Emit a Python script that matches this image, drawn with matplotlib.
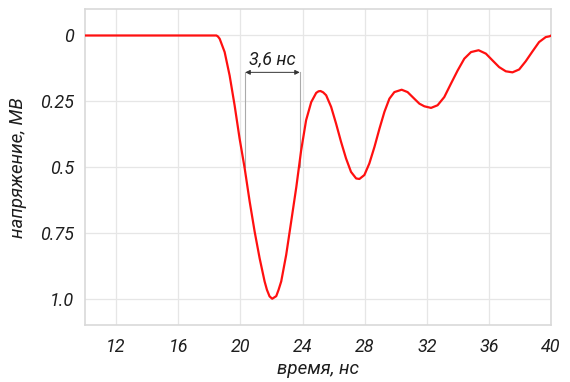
import matplotlib
matplotlib.use("Agg")
import matplotlib.pyplot as plt

# time, ns  /  voltage, MV
t_ns = [10.0, 12.0, 14.0, 16.0, 18.0, 18.46, 18.56, 18.67, 18.99, 19.31, 19.63,
        19.95, 20.28, 20.60, 20.92, 21.24, 21.56, 21.71, 21.88, 22.05, 22.31,
        22.46, 22.63, 22.95, 23.27, 23.60, 23.91, 24.23, 24.56, 24.88, 25.03,
        25.16, 25.33, 25.52, 25.84, 26.16, 26.48, 26.80, 27.12, 27.45, 27.66,
        27.98, 28.30, 28.63, 28.95, 29.27, 29.59, 29.91, 30.38, 30.76, 31.19,
        31.52, 31.84, 32.27, 32.69, 33.12, 33.55, 33.98, 34.41, 34.84, 35.33,
        35.80, 36.23, 36.65, 37.08, 37.51, 37.94, 38.36, 38.79, 39.22, 39.65,
        39.90, 40.0]
u_mv = [0.0, 0.0, 0.0, 0.0, 0.0, 0.0, 0.004, 0.0125, 0.063, 0.152, 0.265,
        0.391, 0.505, 0.631, 0.745, 0.846, 0.934, 0.966, 0.991, 1.0, 0.99,
        0.966, 0.934, 0.833, 0.707, 0.576, 0.437, 0.322, 0.253, 0.218, 0.212,
        0.211, 0.216, 0.227, 0.271, 0.335, 0.404, 0.467, 0.518, 0.543, 0.545,
        0.53, 0.486, 0.423, 0.354, 0.29, 0.24, 0.215, 0.206, 0.215, 0.24,
        0.259, 0.269, 0.275, 0.265, 0.234, 0.183, 0.133, 0.088, 0.063, 0.056,
        0.069, 0.095, 0.12, 0.136, 0.14, 0.129, 0.098, 0.061, 0.025, 0.006,
        0.003, 0.0]

x_ticks = [12, 16, 20, 24, 28, 32, 36, 40]
y_ticks = [0, 0.25, 0.5, 0.75, 1.0]
y_labels = ["0", "0.25", "0.5", "0.75", "1.0"]

# pulse width marker
fwhm_left, fwhm_right = 20.32, 23.82
fwhm_level = 0.5
fwhm_text = "3,6 нс"

plt.rcParams["font.family"] = ["Roboto", "DejaVu Sans"]
txt = "#1e1e1e"
light = "#d9d9d9"

fig = plt.figure(figsize=(5.7, 3.82), dpi=100)
ax = fig.add_axes([0.149, 0.149, 0.818, 0.827])

ax.plot(t_ns, u_mv, color="#ff1010", lw=1.6, zorder=3, solid_joinstyle="round")

ax.set_xlim(10, 40)
ax.set_ylim(1.1, -0.1)
ax.set_xticks(x_ticks)
ax.set_yticks(y_ticks)
ax.set_yticklabels(y_labels)
ax.tick_params(length=0, labelsize=13, colors=txt)
ax.tick_params(axis="x", pad=9)
ax.tick_params(axis="y", pad=8)
for lab in ax.get_xticklabels() + ax.get_yticklabels():
    lab.set_fontstyle("italic")

ax.grid(True, color="#e6e6e6", lw=0.9)
for sp in ax.spines.values():
    sp.set_color(light)
    sp.set_linewidth(1.2)

ax.set_xlabel("время, нс", fontsize=13.5, style="italic", color=txt, labelpad=3)
ax.set_ylabel("напряжение, МВ", fontsize=13.5, style="italic", color=txt, labelpad=9)

# width annotation
arrow_y = 0.14
ax.plot([fwhm_left, fwhm_left], [arrow_y, fwhm_level], color="#aaaaaa", lw=0.8, zorder=2)
ax.plot([fwhm_right, fwhm_right], [arrow_y, fwhm_level], color="#aaaaaa", lw=0.8, zorder=2)
ax.annotate("", xy=(fwhm_left, arrow_y), xytext=(fwhm_right, arrow_y),
            arrowprops=dict(arrowstyle="<|-|>", color="#333333", lw=0.7,
                            mutation_scale=7, shrinkA=0, shrinkB=0))
ax.text((fwhm_left + fwhm_right) / 2, 0.125, fwhm_text, ha="center", va="bottom",
        fontsize=13, style="italic", color=txt)

fig.savefig("out.png", dpi=100)
